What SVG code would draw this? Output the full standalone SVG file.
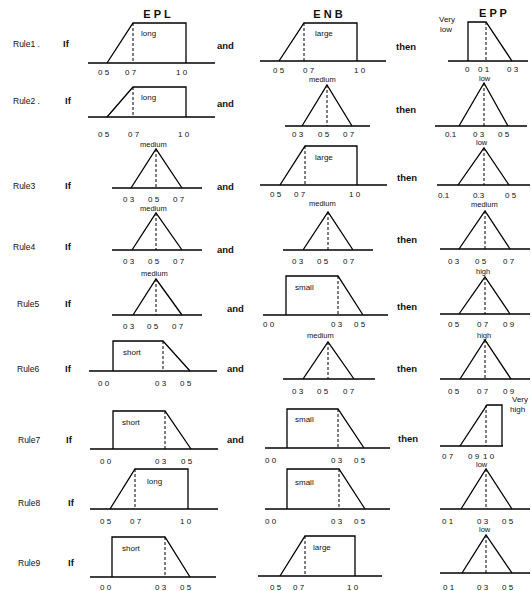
<svg xmlns="http://www.w3.org/2000/svg" width="532" height="591" viewBox="0 0 532 591">
<style>
.ax{stroke:#000;stroke-width:1.3;fill:none}
.mf{stroke:#000;stroke-width:1.3;fill:none;stroke-linejoin:miter}
.ds{stroke:#000;stroke-width:1;stroke-dasharray:3 2;fill:none}
text{font-family:"Liberation Sans",Arial,sans-serif;fill:#111}
.t{font-size:8px}
.m{font-size:7.5px}
.r{font-size:8.5px}
.b{font-size:9.5px;font-weight:bold}
.h{font-size:11px;font-weight:bold;text-anchor:middle}
</style>
<rect width="532" height="591" fill="#fff"/>
<g id="headers">
<text class="h" x="157" y="18">E P L</text>
<text class="h" x="328" y="18">E N B</text>
<text class="h" x="493" y="17">E P P</text>
</g>
<g id="rule-labels">
<text class="r" x="13" y="47">Rule1 .</text><text class="b" x="63" y="47">If</text><text class="b" x="217" y="49">and</text><text class="b" x="396" y="50">then</text>
<text class="r" x="13" y="104">Rule2 .</text><text class="b" x="65" y="104">If</text><text class="b" x="217" y="107">and</text><text class="b" x="396" y="113">then</text>
<text class="r" x="13" y="189">Rule3</text><text class="b" x="65" y="189">If</text><text class="b" x="217" y="190">and</text><text class="b" x="397" y="181">then</text>
<text class="r" x="13" y="250">Rule4</text><text class="b" x="65" y="250">If</text><text class="b" x="217" y="253">and</text><text class="b" x="397" y="243">then</text>
<text class="r" x="17" y="307">Rule5</text><text class="b" x="65" y="307">If</text><text class="b" x="227" y="312">and</text><text class="b" x="397" y="310">then</text>
<text class="r" x="17" y="372">Rule6</text><text class="b" x="65" y="372">If</text><text class="b" x="227" y="372">and</text><text class="b" x="397" y="372">then</text>
<text class="r" x="18" y="443">Rule7</text><text class="b" x="66" y="443">If</text><text class="b" x="227" y="443">and</text><text class="b" x="398" y="442">then</text>
<text class="r" x="18" y="506">Rule8</text><text class="b" x="68" y="506">If</text>
<text class="r" x="18" y="566">Rule9</text><text class="b" x="68" y="566">If</text>
</g>
<!-- Rule 1 -->
<g id="r1-epl">
<line class="ax" x1="88" y1="63" x2="215" y2="63"/>
<polyline class="mf" points="107,63 133,23 186,23 186,63"/>
<line class="ds" x1="133" y1="23" x2="133" y2="63"/>
<text class="t" x="141" y="36">long</text>
<text class="t" x="98" y="75">0 5</text><text class="t" x="125" y="75">0 7</text><text class="t" x="176" y="75">1 0</text>
</g>
<g id="r1-enb">
<line class="ax" x1="260" y1="61" x2="386" y2="61"/>
<polyline class="mf" points="279,61 304,23 357,23 357,61"/>
<line class="ds" x1="304" y1="23" x2="304" y2="61"/>
<text class="t" x="315" y="36">large</text>
<text class="t" x="273" y="73">0 5</text><text class="t" x="303" y="73">0 7</text><text class="t" x="354" y="73">1 0</text>
</g>
<g id="r1-epp">
<line class="ax" x1="448" y1="61" x2="528" y2="61"/>
<polyline class="mf" points="468,61 468,22 486,22 512,61"/>
<line class="ds" x1="486" y1="22" x2="486" y2="61"/>
<text class="t" x="439" y="22">Very</text><text class="t" x="440" y="32">low</text>
<text class="t" x="465" y="72">0</text><text class="t" x="478" y="72">0 1</text><text class="t" x="507" y="72">0 3</text>
</g>
<!-- Rule 2 -->
<g id="r2-epl">
<line class="ax" x1="88" y1="117" x2="215" y2="117"/>
<polyline class="mf" points="107,117 133,87 186,87 186,117"/>
<line class="ds" x1="133" y1="87" x2="133" y2="117"/>
<text class="t" x="141" y="100">long</text>
<text class="t" x="98" y="137">0 5</text><text class="t" x="128" y="137">0 7</text><text class="t" x="178" y="137">1 0</text>
</g>
<g id="r2-enb">
<text class="m" x="309" y="82">medium</text>
<line class="ax" x1="285" y1="126" x2="370" y2="126"/>
<polyline class="mf" points="302,126 327,85 352,126"/>
<line class="ds" x1="327" y1="85" x2="327" y2="126"/>
<text class="t" x="292" y="137">0 3</text><text class="t" x="318" y="137">0 5</text><text class="t" x="343" y="137">0 7</text>
</g>
<g id="r2-epp">
<text class="m" x="479" y="81">low</text>
<line class="ax" x1="435" y1="126" x2="527" y2="126"/>
<polyline class="mf" points="459,126 484,83 508,126"/>
<line class="ds" x1="484" y1="83" x2="484" y2="126"/>
<text class="t" x="445" y="137">0.1</text><text class="t" x="473" y="137">0 3</text><text class="t" x="498" y="137">0 5</text>
</g>
<!-- Rule 3 -->
<g id="r3-epl">
<text class="m" x="140" y="147">medium</text>
<line class="ax" x1="112" y1="188" x2="202" y2="188"/>
<polyline class="mf" points="131,188 156,149 182,188"/>
<line class="ds" x1="156" y1="149" x2="156" y2="188"/>
<text class="t" x="123" y="202">0 3</text><text class="t" x="148" y="202">0 5</text><text class="t" x="173" y="202">0 7</text>
</g>
<g id="r3-enb">
<line class="ax" x1="260" y1="185" x2="387" y2="185"/>
<polyline class="mf" points="280,185 305,146 357,146 357,185"/>
<line class="ds" x1="305" y1="146" x2="305" y2="185"/>
<text class="t" x="315" y="160">large</text>
<text class="t" x="270" y="197">0 5</text><text class="t" x="294" y="197">0 7</text><text class="t" x="349" y="197">1 0</text>
<text class="m" x="309" y="206">medium</text>
</g>
<g id="r3-epp">
<text class="m" x="476" y="145">low</text>
<line class="ax" x1="437" y1="185" x2="530" y2="185"/>
<polyline class="mf" points="458,185 484,148 509,185"/>
<line class="ds" x1="484" y1="148" x2="484" y2="185"/>
<text class="t" x="438" y="198">0.1</text><text class="t" x="473" y="198">0.3</text><text class="t" x="505" y="198">0 5</text>
<text class="m" x="471" y="207">medium</text>
</g>
<!-- Rule 4 -->
<g id="r4-epl">
<text class="m" x="140" y="211">medium</text>
<line class="ax" x1="112" y1="250" x2="202" y2="250"/>
<polyline class="mf" points="132,250 156,213 182,250"/>
<line class="ds" x1="156" y1="213" x2="156" y2="250"/>
<text class="t" x="123" y="264">0 3</text><text class="t" x="148" y="264">0 5</text><text class="t" x="173" y="264">0 7</text>
</g>
<g id="r4-enb">
<line class="ax" x1="283" y1="250" x2="373" y2="250"/>
<polyline class="mf" points="303,250 328,212 353,250"/>
<line class="ds" x1="328" y1="212" x2="328" y2="250"/>
<text class="t" x="292" y="264">0 3</text><text class="t" x="317" y="264">0 5</text><text class="t" x="343" y="264">0 7</text>
</g>
<g id="r4-epp">
<line class="ax" x1="440" y1="249" x2="530" y2="249"/>
<polyline class="mf" points="459,249 485,211 510,249"/>
<line class="ds" x1="485" y1="211" x2="485" y2="249"/>
<text class="t" x="448" y="264">0 3</text><text class="t" x="475" y="264">0 5</text><text class="t" x="503" y="264">0 7</text>
<text class="m" x="476" y="274">high</text>
</g>
<!-- Rule 5 -->
<g id="r5-epl">
<text class="m" x="141" y="276">medium</text>
<line class="ax" x1="112" y1="315" x2="202" y2="315"/>
<polyline class="mf" points="133,315 156,279 182,315"/>
<line class="ds" x1="156" y1="279" x2="156" y2="315"/>
<text class="t" x="123" y="329">0 3</text><text class="t" x="147" y="329">0 5</text><text class="t" x="172" y="329">0 7</text>
</g>
<g id="r5-enb">
<line class="ax" x1="263" y1="315" x2="388" y2="315"/>
<polyline class="mf" points="286,315 286,276 338,276 363,315"/>
<line class="ds" x1="338" y1="276" x2="338" y2="315"/>
<text class="t" x="295" y="290">small</text>
<text class="t" x="263" y="327">0 0</text><text class="t" x="331" y="327">0 3</text><text class="t" x="354" y="327">0 5</text>
</g>
<g id="r5-epp">
<line class="ax" x1="440" y1="314" x2="530" y2="314"/>
<polyline class="mf" points="459,314 485,277 510,314"/>
<line class="ds" x1="485" y1="277" x2="485" y2="314"/>
<text class="t" x="448" y="327">0 5</text><text class="t" x="477" y="327">0 7</text><text class="t" x="503" y="327">0 9</text>
<text class="m" x="477" y="338">high</text>
</g>
<!-- Rule 6 -->
<g id="r6-epl">
<line class="ax" x1="89" y1="371" x2="217" y2="371"/>
<polyline class="mf" points="113,371 113,341 163,341 190,371"/>
<line class="ds" x1="163" y1="341" x2="163" y2="371"/>
<text class="t" x="123" y="355">short</text>
<text class="t" x="98" y="386">0 0</text><text class="t" x="155" y="386">0 3</text><text class="t" x="180" y="386">0 5</text>
</g>
<g id="r6-enb">
<text class="m" x="307" y="338">medium</text>
<line class="ax" x1="283" y1="379" x2="375" y2="379"/>
<polyline class="mf" points="303,379 328,342 354,379"/>
<line class="ds" x1="328" y1="342" x2="328" y2="379"/>
<text class="t" x="292" y="394">0 3</text><text class="t" x="317" y="394">0 5</text><text class="t" x="343" y="394">0 7</text>
</g>
<g id="r6-epp">
<line class="ax" x1="440" y1="379" x2="530" y2="379"/>
<polyline class="mf" points="460,379 485,340 511,379"/>
<line class="ds" x1="485" y1="340" x2="485" y2="379"/>
<text class="t" x="448" y="394">0 5</text><text class="t" x="477" y="394">0 7</text><text class="t" x="503" y="394">0 9</text>
</g>
<!-- Rule 7 -->
<g id="r7-epl">
<line class="ax" x1="90" y1="449" x2="218" y2="449"/>
<polyline class="mf" points="113,449 113,411 165,411 191,449"/>
<line class="ds" x1="165" y1="411" x2="165" y2="449"/>
<text class="t" x="122" y="425">short</text>
<text class="t" x="100" y="464">0 0</text><text class="t" x="155" y="464">0 3</text><text class="t" x="181" y="464">0 5</text>
</g>
<g id="r7-enb">
<line class="ax" x1="265" y1="448" x2="390" y2="448"/>
<polyline class="mf" points="287,448 287,409 338,409 364,448"/>
<line class="ds" x1="338" y1="409" x2="338" y2="448"/>
<text class="t" x="295" y="422">small</text>
<text class="t" x="265" y="463">0 0</text><text class="t" x="331" y="463">0 3</text><text class="t" x="354" y="463">0 5</text>
</g>
<g id="r7-epp">
<line class="ax" x1="440" y1="446" x2="503" y2="446"/>
<polyline class="mf" points="460,446 487,405 502,405 502,446"/>
<line class="ds" x1="486" y1="405" x2="486" y2="446"/>
<text class="t" x="512" y="402">Very</text><text class="t" x="510" y="412">high</text>
<text class="t" x="442" y="459">0 7</text><text class="t" x="468" y="459">0 9</text><text class="t" x="483" y="459">1 0</text>
</g>
<!-- Rule 8 -->
<g id="r8-epl">
<line class="ax" x1="90" y1="509" x2="218" y2="509"/>
<polyline class="mf" points="110,509 135,469 188,469 188,509"/>
<line class="ds" x1="135" y1="469" x2="135" y2="509"/>
<text class="t" x="147" y="484">long</text>
<text class="t" x="100" y="524">0 5</text><text class="t" x="130" y="524">0 7</text><text class="t" x="180" y="524">1 0</text>
</g>
<g id="r8-enb">
<line class="ax" x1="265" y1="509" x2="390" y2="509"/>
<polyline class="mf" points="287,509 287,469 339,469 365,509"/>
<line class="ds" x1="339" y1="469" x2="339" y2="509"/>
<text class="t" x="295" y="485">small</text>
<text class="t" x="265" y="524">0 0</text><text class="t" x="331" y="524">0 3</text><text class="t" x="354" y="524">0 5</text>
</g>
<g id="r8-epp">
<text class="m" x="476" y="467">low</text>
<line class="ax" x1="440" y1="509" x2="530" y2="509"/>
<polyline class="mf" points="461,509 486,469 512,509"/>
<line class="ds" x1="486" y1="469" x2="486" y2="509"/>
<text class="t" x="442" y="524">0 1</text><text class="t" x="477" y="524">0 3</text><text class="t" x="502" y="524">0 5</text>
</g>
<!-- Rule 9 -->
<g id="r9-epl">
<line class="ax" x1="90" y1="577" x2="216" y2="577"/>
<polyline class="mf" points="112,577 112,537 165,537 190,577"/>
<line class="ds" x1="165" y1="537" x2="165" y2="577"/>
<text class="t" x="122" y="551">short</text>
<text class="t" x="100" y="590">0 0</text><text class="t" x="155" y="590">0 3</text><text class="t" x="180" y="590">0 5</text>
</g>
<g id="r9-enb">
<line class="ax" x1="258" y1="576" x2="382" y2="576"/>
<polyline class="mf" points="280,576 305,536 355,536 355,576"/>
<line class="ds" x1="305" y1="536" x2="305" y2="576"/>
<text class="t" x="313" y="550">large</text>
<text class="t" x="270" y="590">0 5</text><text class="t" x="293" y="590">0 7</text><text class="t" x="347" y="590">1 0</text>
</g>
<g id="r9-epp">
<text class="m" x="479" y="532">low</text>
<line class="ax" x1="440" y1="573" x2="530" y2="573"/>
<polyline class="mf" points="462,573 486,535 512,573"/>
<line class="ds" x1="486" y1="535" x2="486" y2="573"/>
<text class="t" x="443" y="590">0 1</text><text class="t" x="477" y="590">0 3</text><text class="t" x="502" y="590">0 5</text>
</g>
</svg>
